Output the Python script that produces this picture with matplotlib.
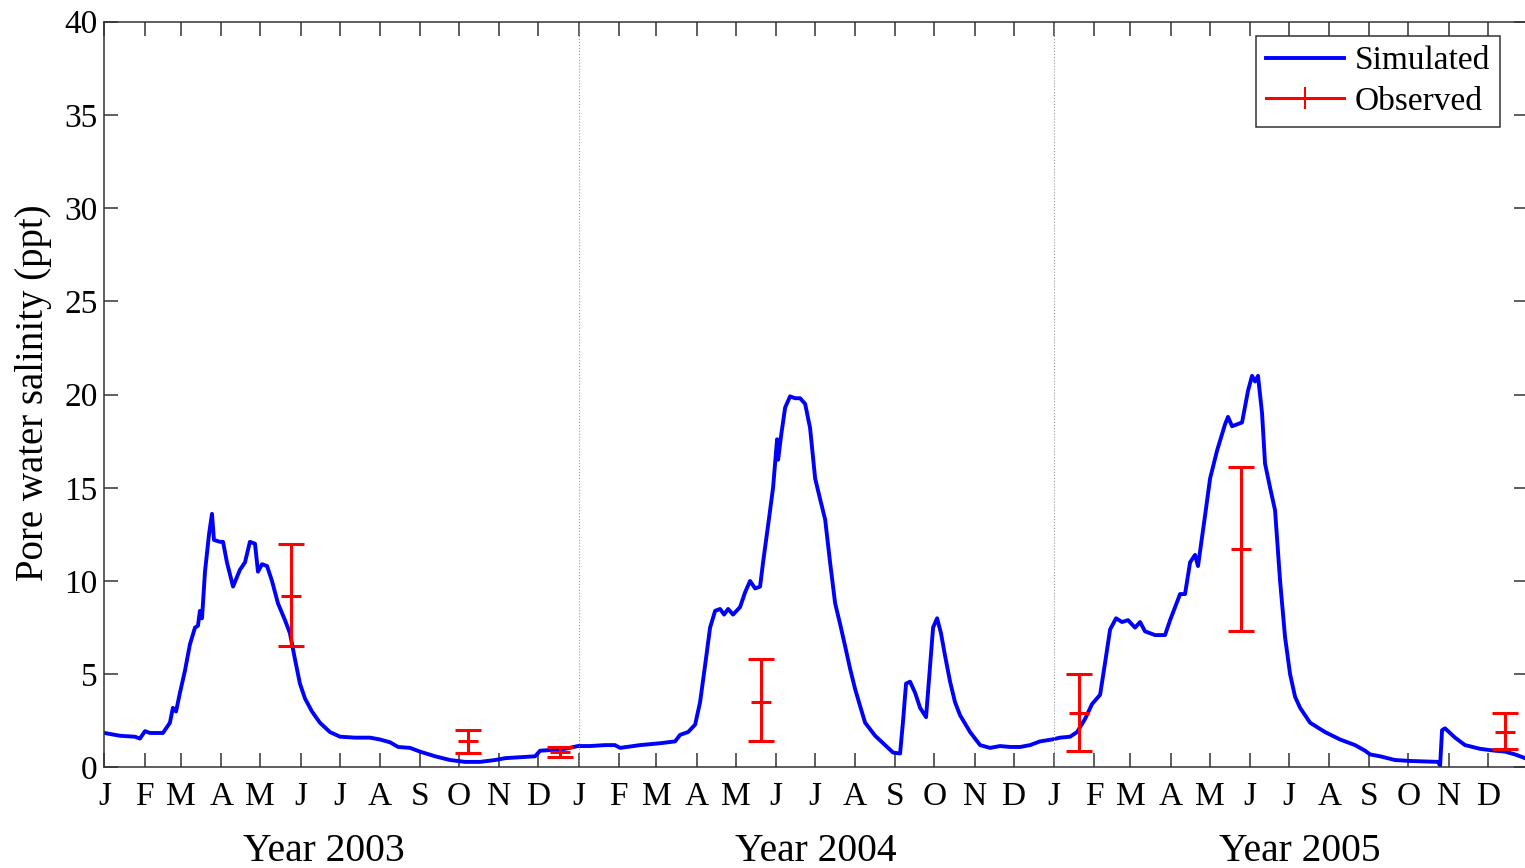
import numpy as np
import matplotlib
matplotlib.use("Agg")
import matplotlib.pyplot as plt
from matplotlib.lines import Line2D

plt.rcParams['font.family'] = ['Liberation Serif', 'DejaVu Serif']

# simulated pore water salinity, days counted from 1 Jan 2003
sim_day = [0, 12, 23.5, 27.3, 31.2, 35, 45, 50.4, 52.7, 55.1, 58.1, 62, 65.8, 69.7, 72, 73.5,
           75.1, 77.4, 80.5, 82.8, 84.3, 89, 91.3, 94.3, 99, 104.3, 108.2, 112, 115.9, 118.2,
           121.3, 125.2, 129, 133.6, 139, 142.8, 146.7, 150.5, 154.4, 159.8, 165.9, 173.6,
           181.4, 192.9, 204.5, 212.2, 219.9, 226.1, 235.3, 243, 254.6, 266.1, 277.7, 289.2,
           300.8, 308.5, 320, 331.6, 335.4, 347, 354.7, 364.6,
           373.9, 385.4, 393.1, 397, 412.4, 427.8, 439.4, 443.2, 449.4, 454.8, 458.6, 462.5,
           466.3, 470.2, 474, 477.1, 480.2, 484, 489.4, 493.3, 497.1, 501, 504.8, 507.1, 511,
           514.8, 517.9, 518.7, 521, 524.1, 527.9, 531.8, 535.6, 539.5, 543.3, 547.2, 551,
           554.9, 558.7, 562.6, 566.4, 570.3, 574.1, 578, 581.8, 585.7, 593.4, 601.1, 607.2,
           612.6, 614.9, 617.2, 620.3, 624.2, 628, 632.6, 635.7, 638, 641.1, 644.1, 647.2,
           651.1, 654.9, 658.8, 666.5, 674.2, 681.9, 689.6, 697.3, 705, 712.7, 720.4, 729.6,
           735.8, 743.5, 748.9, 755, 760.4, 766.6, 770.4, 774.3, 778.9, 783.5, 788.1, 793.5,
           797.4, 801.2, 808.9, 816.6, 820.5, 828.2, 832, 835.9, 839.7, 842, 847.4, 851.3,
           856.7, 862.8, 865.1, 868.2, 875.9, 880.5, 883.6, 885.9, 888.2, 891.3, 893.6, 897.5,
           901.3, 905.2, 909, 912.9, 916.7, 920.6, 928.3, 939.8, 951.4, 962.9, 970.6, 974.5,
           982.2, 993.7, 1005.3, 1026.8, 1028.4, 1029.9, 1032.2, 1039.9, 1047.6, 1059.2,
           1070.7, 1078.4, 1086.1, 1093.8]
sim_val = [1.85, 1.7, 1.65, 1.55, 1.95, 1.85, 1.85, 2.4, 3.2, 3.0, 4.0, 5.2, 6.6, 7.5, 7.6, 8.4,
           8.0, 10.5, 12.5, 13.6, 12.2, 12.1, 12.1, 11.0, 9.7, 10.6, 11.0, 12.1, 12.0, 10.5,
           10.9, 10.8, 10.0, 8.8, 7.9, 7.2, 5.8, 4.5, 3.7, 3.0, 2.4, 1.9,
           1.65, 1.6, 1.6, 1.5, 1.35, 1.1, 1.05, 0.85, 0.6, 0.4, 0.3, 0.3,
           0.4, 0.5, 0.55, 0.6, 0.9, 0.95, 1.0, 1.15,
           1.15, 1.2, 1.2, 1.05, 1.2, 1.3, 1.4, 1.75, 1.9, 2.3, 3.5, 5.5,
           7.5, 8.4, 8.5, 8.2, 8.5, 8.2, 8.6, 9.4, 10.0, 9.6, 9.7, 11.0, 13.0,
           15.0, 17.6, 16.5, 17.8, 19.3, 19.9, 19.8, 19.8, 19.5, 18.2, 15.5, 14.4,
           13.3, 11.0, 8.8, 7.7, 6.5, 5.3, 4.2, 3.3, 2.4, 1.7, 1.2, 0.8,
           0.75, 2.5, 4.5, 4.6, 4.0, 3.2, 2.7, 5.5, 7.5, 8.0, 7.2, 6.0,
           4.6, 3.5, 2.8, 1.9, 1.2, 1.05, 1.15, 1.1, 1.1, 1.2, 1.4, 1.5,
           1.6, 1.65, 1.9, 2.6, 3.4, 3.9, 5.6, 7.4, 8.0, 7.8, 7.9, 7.5,
           7.8, 7.3, 7.1, 7.1, 7.9, 9.3, 9.3, 11.0, 11.4, 10.8, 13.5, 15.5,
           17.0, 18.4, 18.8, 18.3, 18.5, 20.2, 21.0, 20.7, 21.0, 19.0, 16.3, 15.0,
           13.8, 10.0, 7.0, 5.0, 3.8, 3.2, 2.4, 1.9, 1.5, 1.2, 0.9, 0.7,
           0.6, 0.4, 0.35, 0.3, 0.1, 2.0, 2.1, 1.6, 1.2, 1.0,
           0.9, 0.85, 0.7, 0.5]

# observed samples (mean and range)
obs_day = [143.6, 279.9, 350.8, 505.6, 750.4, 875.2, 1078.4]
obs_mid = [9.2, 1.4, 0.85, 3.5, 2.9, 11.7, 1.9]
obs_top = [12.0, 2.0, 1.1, 5.8, 5.0, 16.1, 2.9]
obs_bot = [6.5, 0.75, 0.55, 1.4, 0.9, 7.3, 1.0]

month_letters = ['J', 'F', 'M', 'A', 'M', 'J', 'J', 'A', 'S', 'O', 'N', 'D']
years = ['2003', '2004', '2005']
year_label_day = [169, 548, 920]

start = np.datetime64('2003-01-01')
month_starts = np.arange('2003-01', '2006-02', dtype='datetime64[M]').astype('datetime64[D]')
tick_days = (month_starts - start).astype(int)
year_starts = tick_days[12::12][:2]

fig = plt.figure(figsize=(15.25, 8.68), dpi=100)
ax = fig.add_axes([0.0685, 0.1158, 0.9334, 0.8594])

ax.plot(sim_day, sim_val, color='#0000ff', lw=2.8, label='Simulated')

mid = np.array(obs_mid)
yerr = [mid - np.array(obs_bot), np.array(obs_top) - mid]
ax.errorbar(obs_day, obs_mid, yerr=yerr, fmt='_', color='#ff0000', ms=15, mew=2.2,
            elinewidth=2.2, capsize=9.5, capthick=2.2, ls='none')

for d in year_starts:
    ax.axvline(d, color='#999999', lw=0.8, ls=':')

ax.set_xlim(0, tick_days[-1])
ax.set_ylim(0, 40)
ax.set_xticks(tick_days)
ax.set_xticklabels(month_letters * 3 + [''])
ax.set_yticks(np.arange(0, 41, 5))
ax.tick_params(direction='in', length=10, width=1.1, color='#333333', labelsize=24,
               top=True, right=True)
ax.tick_params(axis='x', pad=10)
ax.tick_params(axis='y', pad=5)
for s in ax.spines.values():
    s.set_linewidth(1.1)
    s.set_color('#333333')

ax.set_ylabel('Pore water salinity (ppt)', fontsize=28)
ax.yaxis.set_label_coords(-0.037, 0.503)

for yr, d in zip(years, year_label_day):
    ax.text(d, -0.112, 'Year ' + yr, transform=ax.get_xaxis_transform(),
            ha='center', va='center', fontsize=28.5)

handles = [Line2D([], [], color='#0000ff', lw=2.8),
           Line2D([], [], color='#ff0000', lw=2.2, marker='|', ms=16, mew=1.5)]
leg = ax.legend(handles, ['Simulated', 'Observed'], loc='upper right',
                bbox_to_anchor=(0.9803, 0.9806), borderaxespad=0, fontsize=24,
                fancybox=False, framealpha=1, edgecolor='#333333', handlelength=2.35,
                handletextpad=0.3, borderpad=0.3, labelspacing=0.3)
leg.get_frame().set_linewidth(1.1)

fig.savefig('out.png', dpi=100)
